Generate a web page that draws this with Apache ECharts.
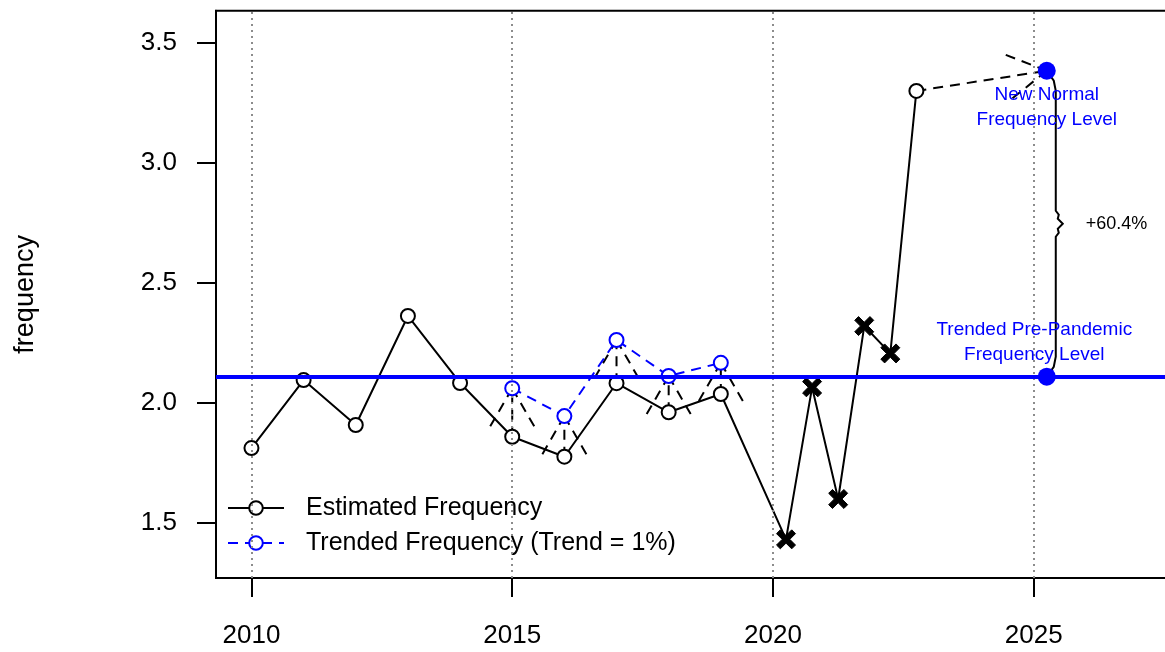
<!DOCTYPE html>
<html><head><meta charset="utf-8">
<script src="https://cdn.jsdelivr.net/npm/echarts@6/dist/echarts.min.js"></script>
<style>html,body{margin:0;padding:0;background:#fff}#c{width:1165px;height:652px}</style>
</head><body><div id="c"></div>
<script>
const FONT = '"Liberation Sans", Arial, sans-serif';
const estYears = [2010, 2011, 2012, 2013, 2014, 2015, 2016, 2017, 2018, 2019, 2020.25, 2020.75, 2021.25, 2021.75, 2022.25, 2022.75];
const estValues = [1.812, 2.095, 1.908, 2.362, 2.083, 1.859, 1.776, 2.082, 1.961, 2.037, 1.432, 2.065, 1.600, 2.320, 2.206, 3.299];
const pandemicYears = [2020.25, 2020.75, 2021.25, 2021.75, 2022.25];
const trendYears = [2015, 2016, 2017, 2018, 2019];
const trendValues = [2.061, 1.945, 2.262, 2.112, 2.167];
const levelYear = 2025.25;
const prePandemicLevel = 2.109;
const newNormalLevel = 3.383;
const changeLabel = '+60.4%';
const xTicks = [2010, 2015, 2020, 2025];
const yTicks = [1.5, 2.0, 2.5, 3.0, 3.5];
const seriesNames = ['Estimated Frequency', 'Trended Frequency (Trend = 1%)'];
const newLabel = 'New Normal\nFrequency Level';
const preLabel = 'Trended Pre-Pandemic\nFrequency Level';
const yName = 'frequency';

const X_PATH = 'path://M4,0L10,6L16,0L20,4L14,10L20,16L16,20L10,14L4,20L0,16L6,10L0,4Z';

const estData = estYears.map((yr, i) => {
  if (pandemicYears.indexOf(yr) >= 0) {
    return { value: [yr, estValues[i]], symbol: X_PATH, symbolSize: 19, itemStyle: { color: '#000', borderColor: '#000', borderWidth: 1 } };
  }
  return { value: [yr, estValues[i]] };
});
const trendData = trendYears.map((yr, i) => [yr, trendValues[i]]);
const arrowData = trendYears.map((yr, i) => [yr, estValues[estYears.indexOf(yr)], yr, trendValues[i]]);
arrowData.push([estYears[estYears.length - 1], estValues[estValues.length - 1], levelYear, newNormalLevel]);

const chart = echarts.init(document.getElementById('c'), null, { renderer: 'canvas' });

function renderArrow(params, api) {
  const p0 = api.coord([api.value(0), api.value(1)]);
  const p1 = api.coord([api.value(2), api.value(3)]);
  const ang = Math.atan2(p1[1] - p0[1], p1[0] - p0[0]);
  const L = 45, a = Math.PI / 6;
  const style = { stroke: '#000', lineWidth: 2, lineDash: [10, 7], fill: null };
  return {
    type: 'group',
    children: [
      { type: 'line', shape: { x1: p0[0], y1: p0[1], x2: p1[0], y2: p1[1] }, style: style },
      { type: 'line', shape: { x1: p1[0], y1: p1[1], x2: p1[0] - L * Math.cos(ang - a), y2: p1[1] - L * Math.sin(ang - a) }, style: style },
      { type: 'line', shape: { x1: p1[0], y1: p1[1], x2: p1[0] - L * Math.cos(ang + a), y2: p1[1] - L * Math.sin(ang + a) }, style: style }
    ]
  };
}

function renderBrace(params, api) {
  const top = api.coord([api.value(0), api.value(2)]);
  const bot = api.coord([api.value(0), api.value(1)]);
  const x = top[0];
  const mid = (top[1] + bot[1]) / 2;
  const pts = [
    [x, top[1]], [x + 7, top[1] + 10], [x + 9, top[1] + 20],
    [x + 9, mid - 13], [x + 12, mid - 9], [x + 11, mid - 5], [x + 16, mid],
    [x + 11, mid + 5], [x + 12, mid + 9], [x + 9, mid + 13],
    [x + 9, bot[1] - 20], [x + 7, bot[1] - 10], [bot[0], bot[1]]
  ];
  return {
    type: 'group',
    children: [
      { type: 'polyline', shape: { points: pts }, style: { stroke: '#000', lineWidth: 2, fill: null } },
      { type: 'text', x: x + 39, y: mid, style: { text: changeLabel, fill: '#000', fontSize: 18, fontFamily: FONT, align: 'left', verticalAlign: 'middle' } },
      { type: 'text', x: top[0], y: top[1] + 37, style: { text: newLabel, fill: '#0000FF', fontSize: 19, fontFamily: FONT, align: 'center', verticalAlign: 'middle', lineHeight: 25 } },
      { type: 'text', x: bot[0] - 12.5, y: bot[1] - 34, style: { text: preLabel, fill: '#0000FF', fontSize: 19, fontFamily: FONT, align: 'center', verticalAlign: 'middle', lineHeight: 25 } }
    ]
  };
}

const option = {
  animation: false,
  backgroundColor: '#fff',
  textStyle: { fontFamily: FONT },
  grid: { left: 216, top: 10.7, width: 957.5, height: 567.3, outerBoundsMode: 'none', containLabel: false, show: true, borderColor: '#000', borderWidth: 2, backgroundColor: 'transparent' },
  legend: {
    data: seriesNames,
    orient: 'vertical',
    left: 222, top: 488,
    itemWidth: 56, itemHeight: 17, itemGap: 5,
    textStyle: { fontSize: 25, color: '#000', fontFamily: FONT, padding: [0, 0, 0, 17], lineHeight: 30 }
  },
  xAxis: {
    type: 'value', min: 2009.32, max: 2027.68,
    splitLine: { show: false },
    axisLine: { show: true, onZero: false, lineStyle: { color: '#000', width: 2 } },
    axisTick: { show: true, customValues: xTicks, length: 19, lineStyle: { color: '#000', width: 2 } },
    axisLabel: { customValues: xTicks, fontSize: 26, color: '#000', fontFamily: FONT, margin: 45, formatter: v => String(v) }
  },
  yAxis: {
    type: 'value', min: 1.271, max: 3.633,
    name: yName, nameLocation: 'middle', nameGap: 177, nameRotate: 90,
    nameTextStyle: { fontSize: 27, color: '#000', fontFamily: FONT },
    splitLine: { show: false },
    axisLine: { show: true, onZero: false, lineStyle: { color: '#000', width: 2 } },
    axisTick: { show: true, customValues: yTicks, length: 19, lineStyle: { color: '#000', width: 2 } },
    axisLabel: { customValues: yTicks, fontSize: 26, color: '#000', fontFamily: FONT, margin: 39, formatter: v => v.toFixed(1) }
  },
  series: [
    {
      type: 'line', data: [], silent: true, z: 1,
      markLine: {
        silent: true, symbol: 'none', label: { show: false }, animation: false,
        lineStyle: { color: '#8c8c8c', width: 2, type: [2, 4] },
        data: xTicks.map(v => ({ xAxis: v }))
      }
    },
    {
      name: seriesNames[0], type: 'line', data: estData, z: 3,
      symbol: 'emptyCircle', symbolSize: 14,
      lineStyle: { color: '#000', width: 2 },
      itemStyle: { color: '#000', borderWidth: 2 }
    },
    {
      name: seriesNames[1], type: 'line', data: trendData, z: 4,
      symbol: 'emptyCircle', symbolSize: 14,
      lineStyle: { color: '#0000FF', width: 2, type: [10, 7] },
      itemStyle: { color: '#0000FF', borderWidth: 2 }
    },
    {
      type: 'custom', data: arrowData, renderItem: renderArrow, z: 2, silent: true,
      encode: { x: [0, 2], y: [1, 3] }
    },
    {
      type: 'line', data: [], silent: true, z: 5,
      markLine: {
        silent: true, symbol: 'none', label: { show: false }, animation: false,
        lineStyle: { color: '#0000FF', width: 4, type: 'solid' },
        data: [{ yAxis: prePandemicLevel }]
      }
    },
    {
      type: 'custom', data: [[levelYear, prePandemicLevel, newNormalLevel]], renderItem: renderBrace, z: 6, silent: true,
      encode: { x: 0, y: [1, 2] }
    },
    {
      type: 'scatter', data: [[levelYear, prePandemicLevel], [levelYear, newNormalLevel]], z: 7, silent: true,
      symbol: 'circle', symbolSize: 18, itemStyle: { color: '#0000FF', opacity: 1 }
    }
  ]
};
chart.setOption(option);
</script>
</body></html>
